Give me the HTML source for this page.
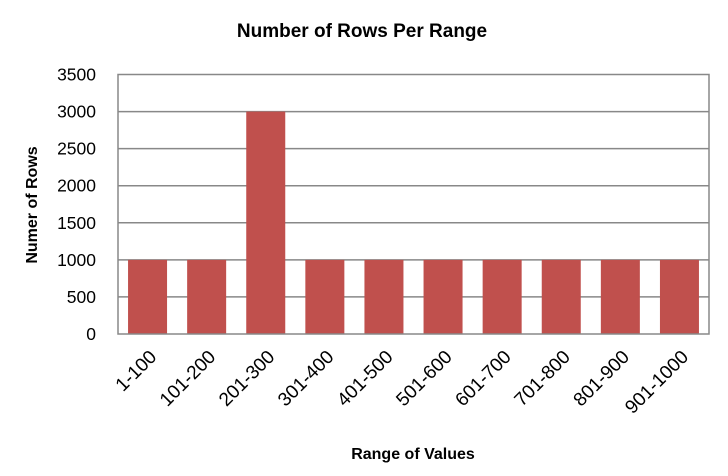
<!DOCTYPE html>
<html><head><meta charset="utf-8"><style>
body{margin:0;background:#fff;}
svg text{font-family:"Liberation Sans",sans-serif;fill:#000;}
</style></head><body>
<svg width="728" height="471" viewBox="0 0 728 471">
<text x="362" y="37" text-anchor="middle" font-size="19" font-weight="bold">Number of Rows Per Range</text>
<text x="413" y="459" text-anchor="middle" font-size="16" font-weight="bold">Range of Values</text>
<text transform="translate(37,205) rotate(-90)" text-anchor="middle" font-size="16" font-weight="bold">Numer of Rows</text>
<g id="grid"></g><g id="bars"></g><g id="ylab"></g><g id="xlab"></g>
<rect x="118" y="74.5" width="591" height="259.5" fill="none" stroke="#888" stroke-width="1.5"/>
</svg>
<script>
const categories=["1-100","101-200","201-300","301-400","401-500","501-600","601-700","701-800","801-900","901-1000"];
const values=[1000,1000,3000,1000,1000,1000,1000,1000,1000,1000];
const yTicks=[0,500,1000,1500,2000,2500,3000,3500];
const L=118,R=709,T=74.5,B=334,yMax=3500;
const ns="http://www.w3.org/2000/svg";
const y=v=>B-(v/yMax)*(B-T);
const band=(R-L)/categories.length;
const x=i=>L+i*band;
function mk(t,a,p){const e=document.createElementNS(ns,t);for(const k in a)e.setAttribute(k,a[k]);document.getElementById(p).appendChild(e);return e;}
yTicks.forEach(v=>{
  if(v>0&&v<yMax){const g=mk("line",{x1:L,x2:R,y1:y(v),y2:y(v),stroke:"#888","stroke-width":1.5},"grid");
  
  }
  const t=mk("text",{x:L-22,y:y(v)+6,"text-anchor":"end","font-size":17.5},"ylab");
  
  
  t.textContent=v;
});
const bw=band*0.66;
values.forEach((v,i)=>{
  const r=mk("rect",{x:x(i)+(band-bw)/2,y:y(v),width:bw,height:B-y(v),fill:"#c0504d"},"bars");
  
  
  const cx=x(i)+band/2+10, cy=B+24;
  const t=mk("text",{x:cx,y:cy,"text-anchor":"end","font-size":19,transform:`rotate(-45 ${cx} ${cy})`},"xlab");
  
  
  t.textContent=categories[i];
});
</script>
</body></html>
